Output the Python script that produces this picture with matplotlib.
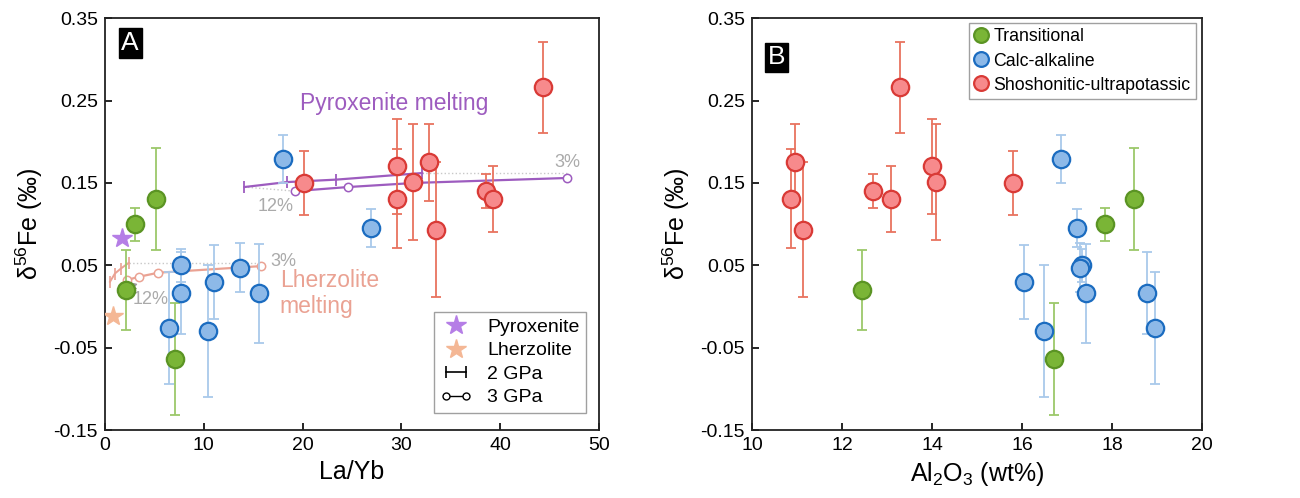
import matplotlib.pyplot as plt
from matplotlib.lines import Line2D
from matplotlib.legend_handler import HandlerLine2D

plt.rcParams['font.family'] = ['Liberation Sans', 'DejaVu Sans']
plt.rcParams['mathtext.default'] = 'regular'

# Shoshonitic-ultrapotassic
red_d56 = [0.266, 0.150, 0.170, 0.131, 0.151, 0.175, 0.093, 0.140, 0.130]
red_err = [0.055, 0.039, 0.058, 0.060, 0.070, 0.047, 0.082, 0.021, 0.040]
red_layb = [44.3, 20.1, 29.5, 29.5, 31.2, 32.8, 33.5, 38.6, 39.3]
red_al = [13.3, 15.8, 14.0, 10.86, 14.1, 10.96, 11.14, 12.7, 13.1]

# Calc-alkaline
blue_d56 = [0.179, 0.095, 0.050, 0.047, 0.016, 0.016, -0.026, -0.030, 0.030]
blue_err = [0.029, 0.023, 0.020, 0.030, 0.060, 0.050, 0.068, 0.080, 0.045]
blue_layb = [18.0, 26.9, 7.7, 13.7, 15.6, 7.7, 6.5, 10.4, 11.0]
blue_al = [16.87, 17.22, 17.33, 17.30, 17.42, 18.78, 18.96, 16.49, 16.04]

# Transitional
green_d56 = [0.100, 0.130, 0.020, -0.064]
green_err = [0.020, 0.062, 0.048, 0.068]
green_layb = [3.0, 5.2, 2.1, 7.1]
green_al = [17.84, 18.49, 12.44, 16.71]

# mantle sources
pyx_src = (1.7, 0.083)
lhz_src = (0.8, -0.012)

# melting models (12% -> 3%)
pyx2_x = [14.1, 18.4, 23.4, 32.1]
pyx2_y = [0.145, 0.151, 0.154, 0.162]
pyx3_x = [19.2, 24.6, 31.4, 46.8]
pyx3_y = [0.140, 0.145, 0.150, 0.156]
lhz2_x = [0.5, 1.0, 1.6, 2.4]
lhz2_y = [0.030, 0.040, 0.046, 0.053]
lhz3_x = [2.2, 3.4, 5.4, 15.8]
lhz3_y = [0.032, 0.036, 0.041, 0.049]

groups = [
    ('Transitional', green_layb, green_al, green_d56, green_err, '#7ab536', '#5b9424', '#9cc86a'),
    ('Calc-alkaline', blue_layb, blue_al, blue_d56, blue_err, '#8db9e8', '#1b6cc0', '#a9c9ea'),
    ('Shoshonitic-ultrapotassic', red_layb, red_al, red_d56, red_err, '#f78a8c', '#d93a36', '#e8735f'),
]

pyx_col = '#9d5cbf'
lhz_col = '#eaa293'
grey = '#aaaaaa'

fig = plt.figure(figsize=(13, 4.98), dpi=100)
axA = fig.add_axes([0.0808, 0.1365, 0.38, 0.827])
axB = fig.add_axes([0.5785, 0.1365, 0.346, 0.827])

for ax in (axA, axB):
    ax.set_ylim(-0.15, 0.35)
    ax.set_yticks([-0.15, -0.05, 0.05, 0.15, 0.25, 0.35])
    ax.set_yticklabels(['-0.15', '-0.05', '0.05', '0.15', '0.25', '0.35'])
    ax.tick_params(direction='in', length=5, labelsize=14, width=1.2, pad=5)
    for s in ax.spines.values():
        s.set_linewidth(1.3)
        s.set_color('#222222')
    ax.set_ylabel('δ$^{56}$Fe (‰)', fontsize=18, labelpad=6)

# ---- panel A
axA.set_xlim(0, 50)
axA.set_xticks([0, 10, 20, 30, 40, 50])
axA.set_xlabel('La/Yb', fontsize=18, labelpad=4)

# melting curves
axA.plot([pyx2_x[0], pyx3_x[0]], [pyx2_y[0], pyx3_y[0]], ':', color='#c8c8c8', lw=1)
axA.plot([pyx2_x[-1], pyx3_x[-1]], [pyx2_y[-1], pyx2_y[-1]], ':', color='#c8c8c8', lw=1)
axA.plot([lhz2_x[-1], lhz3_x[-1]], [lhz2_y[-1], lhz2_y[-1]], ':', color='#c8c8c8', lw=1)
axA.plot(pyx2_x, pyx2_y, '-', color=pyx_col, lw=1.6, marker='|', ms=9, mew=1.3, zorder=2)
axA.plot(pyx3_x, pyx3_y, '-', color=pyx_col, lw=1.6, marker='o', ms=6, mfc='white', mew=1.1, zorder=2)
axA.plot(lhz2_x, lhz2_y, '-', color=lhz_col, lw=1.4, marker='|', ms=9, mew=1.2, zorder=2)
axA.plot(lhz3_x, lhz3_y, '-', color=lhz_col, lw=1.6, marker='o', ms=6, mfc='white', mew=1.1, zorder=2)

for name, xa, xb, y, e, fc, ec, erc in groups:
    axA.errorbar(xa, y, yerr=e, fmt='none', ecolor=erc, elinewidth=1.3, capsize=3.5, capthick=1.3, zorder=3)
    axA.plot(xa, y, 'o', ms=12.5, mfc=fc, mec=ec, mew=1.6, ls='none', zorder=4)
    axB.errorbar(xb, y, yerr=e, fmt='none', ecolor=erc, elinewidth=1.3, capsize=3.5, capthick=1.3, zorder=3)
    axB.plot(xb, y, 'o', ms=12.5, mfc=fc, mec=ec, mew=1.6, ls='none', zorder=4, label=name)

axA.plot(*pyx_src, '*', ms=15, color='#b57ee6', zorder=5)
axA.plot(*lhz_src, '*', ms=15, color='#f4b795', zorder=5)

axA.text(19.7, 0.247, 'Pyroxenite melting', color=pyx_col, fontsize=16.5, va='center')
axA.text(17.7, 0.032, 'Lherzolite', color=lhz_col, fontsize=16.5, va='center')
axA.text(17.7, 0.000, 'melting', color=lhz_col, fontsize=16.5, va='center')
axA.text(46.8, 0.175, '3%', color=grey, fontsize=13, ha='center', va='center')
axA.text(17.3, 0.121, '12%', color=grey, fontsize=13, ha='center', va='center')
axA.text(18.0, 0.055, '3%', color=grey, fontsize=13, ha='center', va='center')
axA.annotate('12%', xy=(2.3, 0.030), xytext=(4.6, 0.008), color=grey, fontsize=13,
             ha='center', va='center',
             arrowprops=dict(arrowstyle='-|>', color='#999999', lw=0.8, shrinkA=8, shrinkB=0))

axA.text(0.051, 0.94, 'A', transform=axA.transAxes, fontsize=19, color='white', ha='center', va='center',
         bbox=dict(boxstyle='square,pad=0.1', fc='black', ec='black'))

hA = [
    Line2D([], [], ls='none', marker='*', ms=15, color='#b57ee6'),
    Line2D([], [], ls='none', marker='*', ms=15, color='#f4b795'),
    Line2D([], [], color='black', lw=1.2, marker='|', ms=8, mew=1.2),
    Line2D([], [], color='black', lw=1.0, marker='o', ms=5, mfc='white'),
]
legA = axA.legend(hA, ['Pyroxenite', 'Lherzolite', '2 GPa', '3 GPa'], loc='lower right',
                  bbox_to_anchor=(0.974, 0.041), borderaxespad=0, fontsize=14, frameon=True,
                  fancybox=False, edgecolor='#888888', handlelength=1.6, labelspacing=0.3,
                  borderpad=0.35,
                  handler_map={hA[2]: HandlerLine2D(numpoints=2), hA[3]: HandlerLine2D(numpoints=2)})
legA.get_frame().set_linewidth(1.0)

# ---- panel B
axB.set_xlim(10, 20)
axB.set_xticks([10, 12, 14, 16, 18, 20])
axB.set_xlabel('Al$_2$O$_3$ (wt%)', fontsize=18, labelpad=4)
axB.text(0.055, 0.905, 'B', transform=axB.transAxes, fontsize=19, color='white', ha='center', va='center',
         bbox=dict(boxstyle='square,pad=0.1', fc='black', ec='black'))
legB = axB.legend(loc='upper right', bbox_to_anchor=(0.987, 0.988), borderaxespad=0, fontsize=12.8,
                  frameon=True, fancybox=False, edgecolor='#888888', handlelength=0.8,
                  handletextpad=0.3, labelspacing=0.4, borderpad=0.3, markerscale=0.85)
legB.get_frame().set_linewidth(1.0)

fig.savefig('out.png', dpi=100)
